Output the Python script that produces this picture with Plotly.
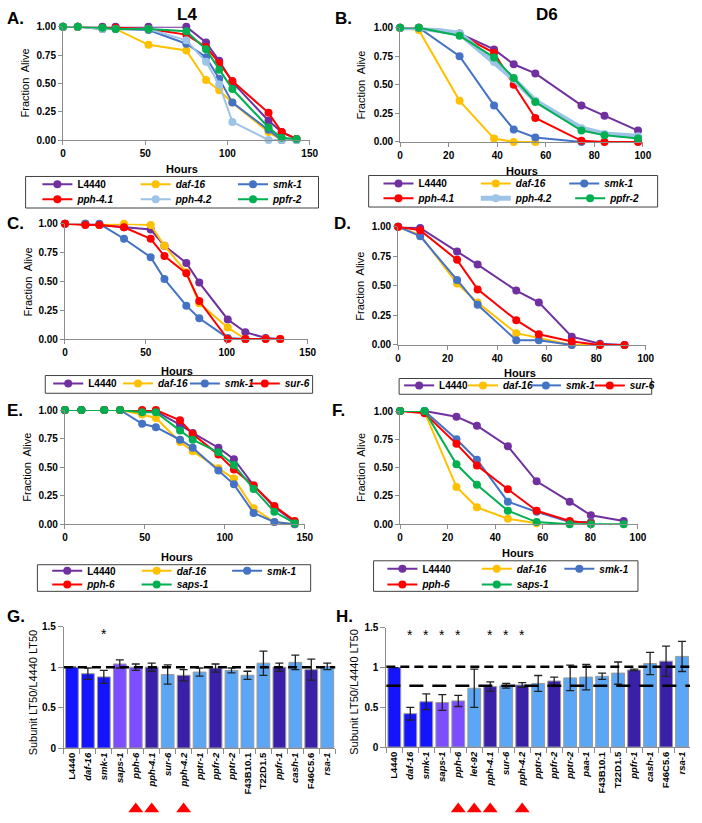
import plotly.graph_objects as go

W, H = 702, 823
FONT = "Liberation Sans, Arial, sans-serif"

# ---------------- colours ----------------
C_PURPLE = "#7030A0"
C_YELLOW = "#FFC000"
C_BLUE = "#4472C4"
C_RED = "#FF0000"
C_LBLUE = "#9DC3E6"
C_GREEN = "#00B050"

BAR_CTRL = "#1414FF"
BAR_B56 = "#7D4EFF"
BAR_DARK = "#3A20A8"
BAR_LIGHT = "#5BA7F5"

# ---------------- data: panel A (L4) ----------------
a_hours = [0, 9, 24, 32, 52, 75, 87, 95, 103, 125, 133, 142]
a_L4440 = [1, 1, 1, 1, 1, 1, 0.86, 0.70, 0.51, 0.17, 0.07, 0.01]
a_daf16 = [1, 1, 0.98, 0.98, 0.84, 0.79, 0.53, 0.44, 0.33, 0.07, 0.0, 0.0]
a_smk1 = [1, 1, 0.98, 0.98, 0.97, 0.85, 0.73, 0.54, 0.33, 0.09, 0.0, 0.0]
a_pph41 = [1, 1, 0.99, 0.99, 0.98, 0.93, 0.82, 0.68, 0.52, 0.24, 0.07, 0.01]
a_pph42 = [1, 1, 0.98, 0.98, 0.98, 0.88, 0.69, 0.49, 0.16, 0.0, 0.0, 0.0]
a_ppfr2 = [1, 1, 0.99, 0.98, 0.98, 0.96, 0.80, 0.62, 0.45, 0.11, 0.02, 0.01]

# ---------------- data: panel B (D6) ----------------
b_hours = [0, 7.7, 24.5, 38.7, 46.8, 55.7, 74.7, 84.2, 98]
b_L4440 = [1, 1, 0.95, 0.81, 0.68, 0.60, 0.32, 0.23, 0.10]
b_daf16 = [1, 0.98, 0.36, 0.03, 0.0, 0.0, None, None, None]
b_smk1 = [1, 1, 0.75, 0.32, 0.11, 0.04, 0.0, None, None]
b_pph41 = [1, 1, 0.94, 0.78, 0.50, 0.21, 0.01, 0.0, 0.0]
b_pph42 = [1, 1, 0.95, 0.70, 0.55, 0.36, 0.12, 0.07, 0.05]
b_ppfr2 = [1, 1, 0.93, 0.74, 0.56, 0.35, 0.10, 0.06, 0.03]

# ---------------- data: panel C ----------------
c_hours = [0, 12.6, 21.3, 36.5, 53, 61.5, 75, 83, 100.6, 111.5, 124, 133]
c_L4440 = [1, 1, 0.99, 0.97, 0.95, 0.81, 0.66, 0.49, 0.17, 0.06, 0.01, 0.0]
c_daf16 = [1, 1, 0.99, 1.0, 0.99, 0.81, 0.58, 0.31, 0.10, 0.0, 0.0, 0.0]
c_smk1 = [1, 1, 1, 0.87, 0.71, 0.52, 0.29, 0.18, 0.01, 0.0, None, None]
c_sur6 = [1, 0.99, 0.99, 0.97, 0.87, 0.72, 0.57, 0.33, 0.0, 0.0, 0.0, 0.0]

# ---------------- data: panel D ----------------
d_hours = [0, 8.9, 23.8, 32.1, 47.7, 56.8, 70.1, 81.5, 91.4]
d_L4440 = [1, 0.99, 0.79, 0.68, 0.46, 0.36, 0.07, 0.01, 0.0]
d_daf16 = [1, 0.93, 0.52, 0.36, 0.10, 0.06, 0.0, 0.0, None]
d_smk1 = [1, 0.92, 0.55, 0.34, 0.04, 0.04, 0.0, None, None]
d_sur6 = [1, 0.97, 0.72, 0.47, 0.21, 0.09, 0.03, 0.0, 0.0]

# ---------------- data: panel E ----------------
e_hours = [0, 10.3, 24.6, 34.5, 48.3, 56.9, 72, 79.9, 96, 105.7, 118, 131, 143.7]
e_L4440 = [1, 1, 1, 1, 0.99, 0.99, 0.87, 0.80, 0.67, 0.57, 0.34, 0.15, 0.02]
e_daf16 = [1, 1, 1, 1, 0.96, 0.93, 0.72, 0.64, 0.49, 0.40, 0.14, 0.02, 0.0]
e_smk1 = [1, 1, 1, 1, 0.88, 0.85, 0.74, 0.67, 0.47, 0.35, 0.10, 0.02, 0.0]
e_pph6 = [1, 1, 1, 1, 1.0, 1.0, 0.91, 0.79, 0.61, 0.48, 0.34, 0.16, 0.03]
e_saps1 = [1, 1, 1, 1, 0.98, 0.98, 0.82, 0.74, 0.63, 0.52, 0.31, 0.11, 0.01]

# ---------------- data: panel F ----------------
f_hours = [0, 10.3, 23.7, 32.3, 45.3, 57.4, 71.3, 80.2, 94]
f_L4440 = [1, 1, 0.95, 0.87, 0.69, 0.38, 0.20, 0.08, 0.03]
f_daf16 = [1, 0.99, 0.33, 0.15, 0.05, 0.01, None, None, None]
f_smk1 = [1, 1, 0.75, 0.57, 0.20, 0.11, 0.02, 0.02, None]
f_pph6 = [1, 0.98, 0.71, 0.52, 0.31, 0.12, 0.03, 0.01, None]
f_saps1 = [1, 1, 0.53, 0.35, 0.12, 0.02, 0.0, 0.0, 0.0]

# ---------------- data: panel G (L4 LT50 ratios) ----------------
g_labels = ["L4440", "daf-16", "smk-1", "saps-1", "pph-6", "pph-4.1", "sur-6", "pph-4.2",
            "pptr-1", "ppfr-2", "pptr-2", "F43B10.1", "T22D1.5", "ppfr-1", "cash-1",
            "F46C5.6", "rsa-1"]
g_values = [1.0, 0.92, 0.88, 1.04, 1.0, 1.0, 0.91, 0.90, 0.94, 0.99, 0.96, 0.90, 1.05,
            1.0, 1.06, 0.97, 1.01]
g_errors = [0, 0.07, 0.08, 0.05, 0.04, 0.05, 0.12, 0.07, 0.05, 0.05, 0.03, 0.05, 0.15,
            0.05, 0.09, 0.13, 0.04]
g_classes = ["ctrl", "ctrl", "ctrl", "b56", "b56", "dark", "light", "dark", "light", "dark",
             "light", "light", "light", "dark", "light", "dark", "light"]
g_stars = ["smk-1"]
g_triangles = ["pph-6", "pph-4.1", "pph-4.2"]
g_ref = 1.0

# ---------------- data: panel H (D6 LT50 ratios) ----------------
h_labels = ["L4440", "daf-16", "smk-1", "saps-1", "pph-6", "let-92", "pph-4.1", "sur-6",
            "pph-4.2", "pptr-1", "ppfr-2", "pptr-2", "paa-1", "F43B10.1", "T22D1.5",
            "ppfr-1", "cash-1", "F46C5.6", "rsa-1"]
h_values = [1.0, 0.42, 0.57, 0.56, 0.58, 0.74, 0.76, 0.77, 0.78, 0.80, 0.83, 0.87, 0.88,
            0.89, 0.93, 0.97, 1.05, 1.08, 1.14]
h_errors = [0, 0.08, 0.10, 0.10, 0.07, 0.24, 0.06, 0.03, 0.03, 0.10, 0.05, 0.16, 0.16,
            0.04, 0.14, 0.01, 0.14, 0.19, 0.19]
h_classes = ["ctrl", "ctrl", "ctrl", "b56", "b56", "light", "dark", "light", "dark", "light",
             "dark", "light", "light", "light", "light", "dark", "light", "dark", "light"]
h_stars = ["daf-16", "smk-1", "saps-1", "pph-6", "pph-4.1", "sur-6", "pph-4.2"]
h_triangles = ["pph-6", "let-92", "pph-4.1", "pph-4.2"]
h_ref_upper = 1.01
h_ref_lower = 0.77

NON_ITALIC = {"L4440", "F43B10.1", "T22D1.5", "F46C5.6"}
CLASS_COLOR = {"ctrl": BAR_CTRL, "b56": BAR_B56, "dark": BAR_DARK, "light": BAR_LIGHT}


def fmt(name):
    return name if name in NON_ITALIC else "<i>%s</i>" % name


def xd(l, r):
    return [l / W, r / W]


def yd(t, b):
    return [max(0.0, 1 - b / H), 1 - t / H]


def px(x):
    return x / W


def py(y):
    return 1 - y / H


# ---------------- line panels ----------------
line_panels = [
    dict(ax=1, hours=a_hours, series=[("L4440", a_L4440, C_PURPLE, 2), ("daf-16", a_daf16, C_YELLOW, 2),
                                      ("smk-1", a_smk1, C_BLUE, 2), ("pph-4.1", a_pph41, C_RED, 2),
                                      ("pph-4.2", a_pph42, C_LBLUE, 2), ("ppfr-2", a_ppfr2, C_GREEN, 2)],
         box=(61, 312, 21, 136), xmax=150, dtick=50, hours_xy=(182, 165), frac_xy=(22, 78),
         leg_pos=[(42, 181), (142, 181), (241, 181), (42, 196), (142, 196), (241, 196)],
         leg_box=(23, 321, 173, 205)),
    dict(ax=2, hours=b_hours, series=[("L4440", b_L4440, C_PURPLE, 2), ("daf-16", b_daf16, C_YELLOW, 2),
                                      ("smk-1", b_smk1, C_BLUE, 2), ("pph-4.1", b_pph41, C_RED, 2),
                                      ("pph-4.2", b_pph42, C_LBLUE, 5), ("ppfr-2", b_ppfr2, C_GREEN, 2)],
         box=(404, 651, 22, 138), xmax=100, dtick=20, hours_xy=(528, 167), frac_xy=(364, 80),
         leg_pos=[(389, 180), (488, 180), (578, 180), (389, 195), (488, 195), (584, 195)],
         leg_box=(372, 666, 172, 204)),
    dict(ax=3, hours=c_hours, series=[("L4440", c_L4440, C_PURPLE, 2), ("daf-16", c_daf16, C_YELLOW, 2),
                                      ("smk-1", c_smk1, C_BLUE, 2), ("sur-6", c_sur6, C_RED, 2)],
         box=(63, 310, 221, 338), xmax=150, dtick=50, hours_xy=(177, 370), frac_xy=(25, 280),
         leg_pos=[(53, 383), (124, 383), (192, 383), (253, 383)],
         leg_box=(43, 315, 375, 393)),
    dict(ax=4, hours=d_hours, series=[("L4440", d_L4440, C_PURPLE, 2), ("daf-16", d_daf16, C_YELLOW, 2),
                                      ("smk-1", d_smk1, C_BLUE, 2), ("sur-6", d_sur6, C_RED, 2)],
         box=(402, 654, 224, 344), xmax=100, dtick=20, hours_xy=(526, 372), frac_xy=(363, 284),
         leg_pos=[(410, 385), (475, 385), (539, 385), (604, 385)],
         leg_box=(403, 660, 378, 394)),
    dict(ax=5, hours=e_hours, series=[("L4440", e_L4440, C_PURPLE, 2), ("daf-16", e_daf16, C_YELLOW, 2),
                                      ("smk-1", e_smk1, C_BLUE, 2), ("pph-6", e_pph6, C_RED, 2),
                                      ("saps-1", e_saps1, C_GREEN, 2)],
         box=(63, 307, 410, 526), xmax=150, dtick=50, hours_xy=(177, 559), frac_xy=(25, 468),
         leg_pos=[(52, 573), (143, 573), (235, 573), (52, 587), (143, 587)],
         leg_box=(35, 313, 567, 594)),
    dict(ax=6, hours=f_hours, series=[("L4440", f_L4440, C_PURPLE, 2), ("daf-16", f_daf16, C_YELLOW, 2),
                                      ("smk-1", f_smk1, C_BLUE, 2), ("pph-6", f_pph6, C_RED, 2),
                                      ("saps-1", f_saps1, C_GREEN, 2)],
         box=(404, 646, 411, 526), xmax=100, dtick=20, hours_xy=(524, 555), frac_xy=(364, 468),
         leg_pos=[(393, 571), (489, 571), (573, 571), (393, 587), (489, 587)],
         leg_box=(377, 646, 563, 594)),
]

LEG_DX = -7  # legend anchor offset relative to line start

fig = go.Figure()
layout = dict(
    width=W, height=H, margin=dict(l=0, r=0, t=0, b=0),
    paper_bgcolor="white", plot_bgcolor="white",
    font=dict(family=FONT, size=10, color="black", weight="bold"),
    showlegend=True,
)
annotations = []
shapes = []
AXC = "#8C8C8C"

leg_n = 0
for p in line_panels:
    k = p["ax"]
    sx = "" if k == 1 else str(k)
    l, r, t, b = p["box"]
    layout["xaxis" + sx] = dict(domain=xd(l, r), anchor="y" + sx, range=[0, p["xmax"]],
                                dtick=p["dtick"], tick0=0, showline=True, linecolor=AXC,
                                linewidth=1, ticks="outside", ticklen=4, tickcolor=AXC,
                                showgrid=False, zeroline=False,
                                tickfont=dict(size=10, weight="bold"))
    layout["yaxis" + sx] = dict(domain=yd(t, b), anchor="x" + sx, range=[0, 1],
                                tickvals=[0, 0.25, 0.5, 0.75, 1], tickformat=".2f",
                                showline=True, linecolor=AXC, linewidth=1, ticks="outside",
                                ticklen=4, tickcolor=AXC, showgrid=False, zeroline=False,
                                tickfont=dict(size=10, weight="bold"))
    for i, (name, vals, col, lw) in enumerate(p["series"]):
        leg_n += 1
        lid = "legend" if leg_n == 1 else "legend%d" % leg_n
        lx, ly = p["leg_pos"][i]
        layout[lid] = dict(x=px(lx + LEG_DX), xanchor="left", y=py(ly), yanchor="middle",
                           orientation="h", bgcolor="rgba(0,0,0,0)", borderwidth=0,
                           font=dict(size=10, weight="bold", family=FONT))
        fig.add_trace(go.Scatter(
            x=p["hours"], y=vals, name=fmt(name), mode="lines+markers",
            line=dict(color=col, width=lw), marker=dict(color=col, size=8),
            xaxis="x" + sx, yaxis="y" + sx, cliponaxis=False, legend=lid,
            connectgaps=False))
    bl, br, bt, bb = p["leg_box"]
    shapes.append(dict(type="rect", xref="paper", yref="paper", x0=px(bl), x1=px(br),
                       y0=py(bb), y1=py(bt), line=dict(color="#404040", width=1)))
    hx, hy = p["hours_xy"]
    annotations.append(dict(x=px(hx), y=py(hy), xref="paper", yref="paper", text="Hours",
                            showarrow=False, font=dict(size=11, weight="bold"),
                            xanchor="center", yanchor="middle"))
    fx, fy = p["frac_xy"]
    annotations.append(dict(x=px(fx), y=py(fy), xref="paper", yref="paper",
                            text="Fraction  Alive", textangle=-90, showarrow=False,
                            font=dict(size=11, weight="normal"),
                            xanchor="center", yanchor="middle"))

# ---------------- bar panels ----------------
bar_panels = [
    dict(ax=7, tax=9, labels=g_labels, values=g_values, errors=g_errors, classes=g_classes,
         stars=g_stars, tris=g_triangles, box=(62, 338, 630, 753), title_xy=(30, 696),
         refs=[(g_ref, "9px,5px")]),
    dict(ax=8, tax=10, labels=h_labels, values=h_values, errors=h_errors, classes=h_classes,
         stars=h_stars, tris=h_triangles, box=(390, 699, 631, 752), title_xy=(357, 696),
         refs=[(h_ref_upper, "9px,5px"), (h_ref_lower, "14px,9px")]),
]

for p in bar_panels:
    k = p["ax"]
    sx = str(k)
    tx_ = str(p["tax"])
    l, r, t, b = p["box"]
    n = len(p["labels"])
    layout["xaxis" + sx] = dict(domain=xd(l, r), anchor="y" + sx, type="category",
                                range=[-0.5, n - 0.5],
                                showline=True, linecolor=AXC, linewidth=1, ticks="outside",
                                tickson="boundaries", ticklen=5, tickcolor=AXC,
                                tickangle=-90, tickmode="array", tickvals=p["labels"],
                                ticktext=[fmt(s) for s in p["labels"]], showgrid=False,
                                tickfont=dict(size=9.5, weight="bold"))
    layout["yaxis" + sx] = dict(domain=yd(t, b), anchor="x" + sx, range=[0, 1.5],
                                tickvals=[0, 0.5, 1, 1.5], ticktext=["0", "0.5", "1", "1.5"],
                                showline=True, linecolor=AXC, linewidth=1, ticks="outside",
                                ticklen=5, tickcolor=AXC, showgrid=False, zeroline=False,
                                tickfont=dict(size=10, weight="bold"))
    fig.add_trace(go.Bar(
        x=p["labels"], y=p["values"], xaxis="x" + sx, yaxis="y" + sx, showlegend=False,
        marker=dict(color=[CLASS_COLOR[c] for c in p["classes"]],
                    line=dict(color="#9A9A9A", width=1)),
        error_y=dict(type="data", array=p["errors"], color="#222222", thickness=1.3, width=4)))
    # hidden helper axes for the red triangles below the category labels
    layout["xaxis" + tx_] = dict(domain=xd(l, r), anchor="y" + tx_, type="category",
                                 categoryorder="array", categoryarray=p["labels"],
                                 range=[-0.5, n - 0.5], visible=False)
    layout["yaxis" + tx_] = dict(domain=yd(807, 823), anchor="x" + tx_, range=[0, 1],
                                 visible=False)
    fig.add_trace(go.Scatter(
        x=p["tris"], y=[0.5] * len(p["tris"]), mode="markers", xaxis="x" + tx_,
        yaxis="y" + tx_, showlegend=False, cliponaxis=False,
        marker=dict(symbol="triangle-up", size=13, color="#FF0000")))
    for s in p["stars"]:
        annotations.append(dict(x=s, y=1.41, xref="x" + sx, yref="y" + sx, text="*",
                                showarrow=False, font=dict(size=14, weight="normal")))
    for val, dash in p["refs"]:
        shapes.append(dict(type="line", xref="x%s domain" % sx, yref="y" + sx, x0=0, x1=1,
                           y0=val, y1=val, layer="above",
                           line=dict(color="black", width=2.5, dash=dash)))
    tx, ty = p["title_xy"]
    annotations.append(dict(x=px(tx), y=py(ty), xref="paper", yref="paper",
                            text="Subunit LT50/L4440 LT50", textangle=-90, showarrow=False,
                            font=dict(size=11, weight="normal"),
                            xanchor="center", yanchor="middle"))

# ---------------- titles & panel letters ----------------
for txt, x, y in [("L4", 187, 9), ("D6", 553, 9)]:
    annotations.append(dict(x=px(x), y=py(y), xref="paper", yref="paper", text=txt,
                            showarrow=False, font=dict(size=17, weight="bold"),
                            xanchor="center", yanchor="middle"))
for txt, x, y in [("A.", 2, 13), ("B.", 336, 13), ("C.", 2, 221), ("D.", 335, 221),
                  ("E.", 2, 410), ("F.", 333, 410), ("G.", 2, 620), ("H.", 337, 620)]:
    annotations.append(dict(x=px(x), y=py(y), xref="paper", yref="paper", text=txt,
                            showarrow=False, font=dict(size=17, weight="bold"),
                            xanchor="left", yanchor="middle"))

layout["annotations"] = annotations
layout["shapes"] = shapes
fig.update_layout(**layout)
fig.write_html("out.html", config={"displayModeBar": False},
               post_script="document.body.style.margin='0px';")
